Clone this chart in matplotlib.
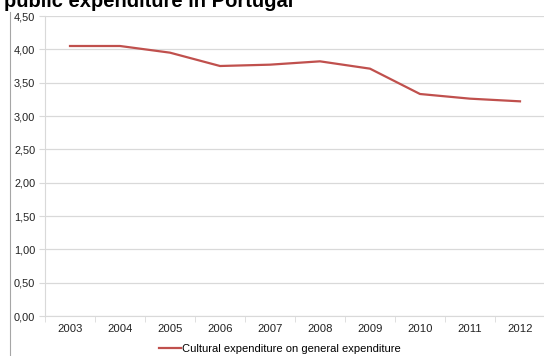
import matplotlib
matplotlib.use("Agg")
import matplotlib.pyplot as plt
from matplotlib.lines import Line2D
import numpy as np

YEARS = ["2003", "2004", "2005", "2006", "2007", "2008", "2009", "2010", "2011", "2012"]
SHARE = [4.05, 4.05, 3.95, 3.75, 3.77, 3.82, 3.71, 3.33, 3.26, 3.22]
Y_TICKS = [0.0, 0.5, 1.0, 1.5, 2.0, 2.5, 3.0, 3.5, 4.0, 4.5]

RED = "#c0504d"
GRID = "#d9d9d9"
TEXT = "#222222"

plt.rcParams["font.family"] = ["Liberation Sans", "DejaVu Sans"]

W, H = 544, 356
fig = plt.figure(figsize=(W / 100, H / 100), dpi=100)
fig.patch.set_facecolor("white")

ax = fig.add_axes([45 / W, 40 / H, 500 / W, 300 / H])
x = np.arange(len(YEARS))
line, = ax.plot(x, SHARE, color=RED, lw=1.6, solid_joinstyle="round")

ax.set_xlim(-0.5, len(YEARS) - 0.5)
ax.set_ylim(0, 4.5)
ax.set_yticks(Y_TICKS)
ax.set_yticklabels([f"{v:.2f}".replace(".", ",") for v in Y_TICKS], fontsize=7.9, color=TEXT)
ax.set_xticks(x)
ax.set_xticklabels(YEARS, fontsize=8.1, color=TEXT)
ax.tick_params(axis="x", length=0, pad=6)
ax.set_xticks(np.arange(-0.5, len(YEARS)), minor=True)
ax.tick_params(axis="x", which="minor", length=4, color=GRID)
ax.tick_params(axis="y", length=4, color=GRID, pad=3)

ax.grid(axis="y", color=GRID, lw=0.9)
ax.set_axisbelow(True)
for s in ["top", "right"]:
    ax.spines[s].set_visible(False)
ax.spines["left"].set_color(GRID)
ax.spines["bottom"].set_color(GRID)

# title (top half cut off by the image edge)
fig.text(4 / W, 1 - 7 / H, "public expenditure in Portugal", fontsize=14.5,
         fontweight="bold", ha="left", va="baseline", color="black")

# outer chart frame on the left
fig.add_artist(Line2D([10 / W, 10 / W], [0, 1 - 12 / H], transform=fig.transFigure,
                      color="#a6a6a6", lw=0.8))

ax.legend([line], ["Cultural expenditure on general expenditure"], loc="center",
          bbox_to_anchor=(280 / W, 7 / H), bbox_transform=fig.transFigure,
          frameon=False, fontsize=8, handlelength=2.0, handletextpad=0.1)

fig.savefig("out.png", dpi=100, facecolor="white")
